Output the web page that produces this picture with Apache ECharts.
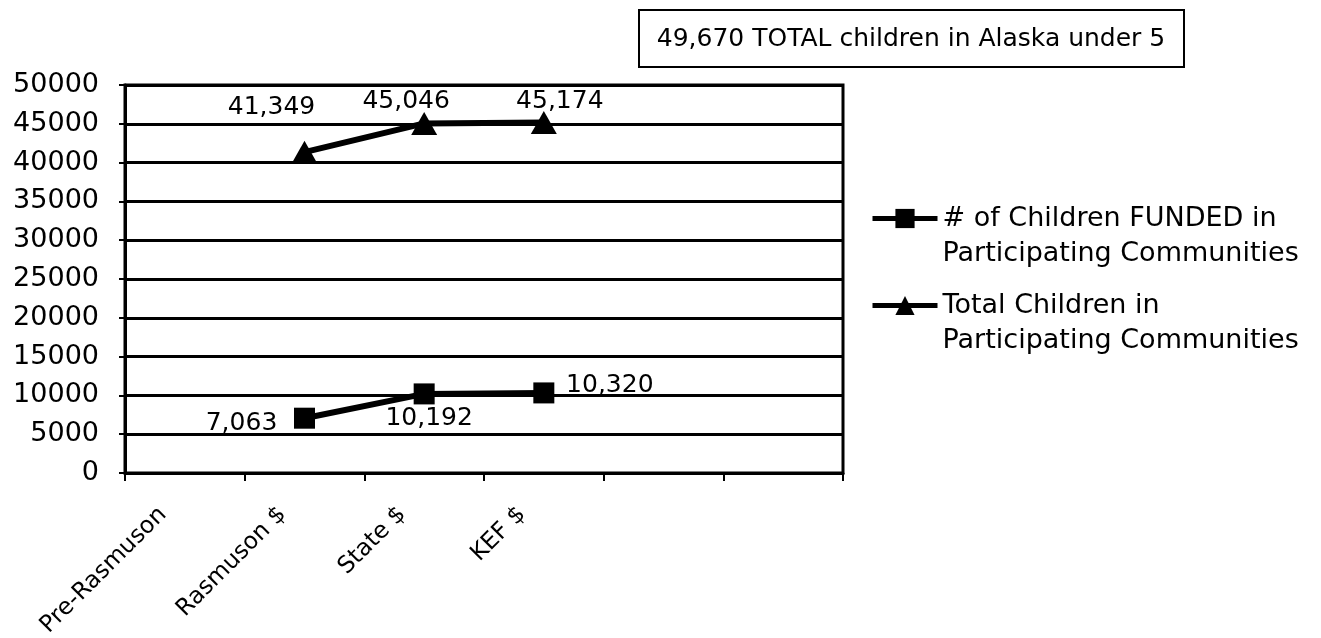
<!DOCTYPE html>
<html>
<head>
<meta charset="utf-8">
<script src="https://cdn.jsdelivr.net/npm/echarts@6/dist/echarts.min.js"></script>
<style>
  html, body { margin: 0; padding: 0; background: #fff; }
  #chart { width: 1321px; height: 638px; }
</style>
</head>
<body>
<div id="chart"></div>
<script>
// categories on the x axis (last two are empty slots in the original)
const categories = ['Pre-Rasmuson', 'Rasmuson $', 'State $', 'KEF $', '', '']
// # of children funded in participating communities
const fundedValues = [null, 7063, 10192, 10320, null, null]
// total children in participating communities
const totalValues = [null, 41349, 45046, 45174, null, null]
const seriesNames = [
  '# of Children FUNDED in\nParticipating Communities',
  'Total Children in\nParticipating Communities'
]
const yTicks = { min: 0, max: 50000, interval: 5000 }
const boxText = '49,670 TOTAL children in Alaska under 5'

// label placement (pixel offsets from each point)
const fundedOffsets = [null, [-63, 5], [5, 25], [66, -7], null, null]
const totalOffsets = [null, [-33, -45], [-18, -22], [16, -21], null, null]

const fmt = v => v.toLocaleString('en-US')
const font = 'DejaVu Sans'

const toData = (values, offsets) => values.map((v, i) => {
  if (v == null) return '-'
  return { value: v, label: { offset: offsets[i] } }
})

const chart = echarts.init(document.getElementById('chart'))

const option = {
  backgroundColor: '#fff',
  animation: false,
  textStyle: { fontFamily: font, color: '#000' },
  grid: {
    left: 125,
    right: 478,
    top: 85,
    bottom: 165,
    outerBoundsMode: 'none',
    show: true,
    borderColor: '#000',
    borderWidth: 3
  },
  legend: {
    orient: 'vertical',
    left: 870,
    top: 166,
    padding: 0,
    itemGap: -18,
    itemWidth: 65,
    itemHeight: 24,
    selectedMode: false,
    lineStyle: { width: 5, color: '#000' },
    // leading blank line keeps the icon level with the first text line
    formatter: name => ' \n' + name,
    textStyle: {
      fontFamily: font,
      fontSize: 27,
      color: '#000',
      lineHeight: 35
    },
    data: seriesNames
  },
  xAxis: {
    type: 'category',
    data: categories,
    boundaryGap: true,
    axisLine: { lineStyle: { color: '#000', width: 3 } },
    axisTick: { show: true, length: 8, lineStyle: { color: '#000', width: 2 } },
    axisLabel: {
      interval: 0,
      rotate: 45,
      margin: 16,
      fontSize: 23.5,
      color: '#000',
      fontFamily: font,
      padding: [0, 31, 0, 0]
    },
    splitLine: { show: false }
  },
  yAxis: {
    type: 'value',
    min: yTicks.min,
    max: yTicks.max,
    interval: yTicks.interval,
    axisLine: { show: true, lineStyle: { color: '#000', width: 3 } },
    axisTick: { show: true, length: 6, lineStyle: { color: '#000', width: 2 } },
    axisLabel: {
      margin: 26,
      fontSize: 27,
      color: '#000',
      fontFamily: font,
      formatter: v => String(v)
    },
    splitLine: { show: true, lineStyle: { color: '#000', width: 3 } }
  },
  series: [
    {
      name: seriesNames[0],
      type: 'line',
      data: toData(fundedValues, fundedOffsets),
      symbol: 'rect',
      symbolSize: 21,
      lineStyle: { color: '#000', width: 6 },
      itemStyle: { color: '#000' },
      label: {
        show: true,
        position: 'inside',
        fontSize: 25,
        color: '#000',
        fontFamily: font,
        formatter: p => fmt(p.value)
      }
    },
    {
      name: seriesNames[1],
      type: 'line',
      data: toData(totalValues, totalOffsets),
      symbol: 'triangle',
      symbolSize: [26, 23],
      lineStyle: { color: '#000', width: 6 },
      itemStyle: { color: '#000' },
      label: {
        show: true,
        position: 'inside',
        fontSize: 25,
        color: '#000',
        fontFamily: font,
        formatter: p => fmt(p.value)
      }
    }
  ],
  graphic: [
    {
      type: 'group',
      left: 638,
      top: 9,
      children: [
        {
          type: 'rect',
          shape: { x: 0, y: 0, width: 545, height: 57 },
          style: { fill: '#fff', stroke: '#000', lineWidth: 2 }
        },
        {
          type: 'text',
          x: 272,
          y: 29,
          style: {
            text: boxText,
            fontFamily: font,
            fontSize: 25,
            fill: '#000',
            align: 'center',
            verticalAlign: 'middle'
          }
        }
      ]
    }
  ]
}

chart.setOption(option)
</script>
</body>
</html>
